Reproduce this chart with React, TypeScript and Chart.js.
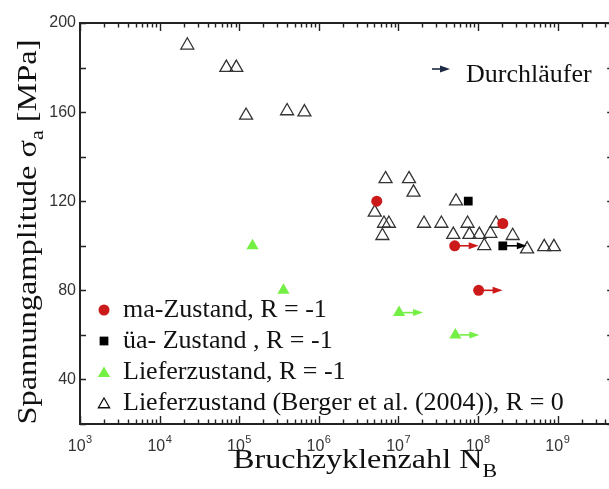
import React, { useEffect, useRef } from 'react';
import { Chart, registerables } from 'chart.js';

Chart.register(...registerables);

// ---- axis ranges & ticks ----
const X_MIN = 1e3;
const X_MAX = 5e9;
const Y_MIN = 20;
const Y_MAX = 200;
const yTickValues = [20, 40, 60, 80, 100, 120, 140, 160, 180, 200];
const yLabelledValues = [40, 80, 120, 160, 200];
const xExponents = [3, 4, 5, 6, 7, 8, 9];
const xMultipliers = [1, 2, 3, 4, 5, 6, 7, 8, 9];

// ---- texts ----
const seriesLabels = [
  'ma-Zustand, R = -1',
  'üa- Zustand , R = -1',
  'Lieferzustand, R = -1',
  'Lieferzustand (Berger et al. (2004)), R = 0',
];
const xTitleMain = 'Bruchzyklenzahl N';
const xTitleSub = 'B';
const yTitleMain = 'Spannungamplitude σ';
const yTitleSub = 'a';
const yTitleTail = ' [MPa]';
const runoutLabel = 'Durchläufer';

// ---- data: ma-Zustand, R = -1 ----
const maN = [5.35e6, 5.1e7, 1.02e8, 2.05e8];
const maS = [120, 100, 80, 110];
const maRunout = [false, true, true, false];

// ---- data: üa-Zustand, R = -1 ----
const uaN = [7.55e7, 2.05e8];
const uaS = [120, 100];
const uaRunout = [false, true];

// ---- data: Lieferzustand, R = -1 ----
const lzN = [1.47e5, 3.6e5, 1.02e7, 5.2e7];
const lzS = [100, 80, 70, 60];
const lzRunout = [false, false, true, true];

// ---- data: Lieferzustand (Berger et al. 2004), R = 0 ----
const bergerN = [
  2.23e4, 6.9e4, 9.2e4, 1.22e5, 4.0e5, 6.6e5,
  6.9e6, 1.36e7, 1.55e7, 5.05e6, 6.6e6, 7.6e6, 6.3e6,
  2.1e7, 3.47e7, 5.3e7, 7.4e7, 4.9e7, 7.8e7, 1.04e8, 1.43e8,
  1.69e8, 2.73e8, 1.2e8, 4.14e8, 6.8e8, 9.0e8,
];
const bergerS = [
  190, 180, 180, 158.5, 160.5, 160,
  130, 130, 124, 115, 110, 110, 104.5,
  110, 110, 120, 110, 105, 105, 105, 105.5,
  110, 104.5, 100, 98.5, 99.5, 99.5,
];

const RED = '#cc1a1a';
const GREEN = '#74ef44';
const BLACK = '#000000';
const GRAY = '#333333';
const NAVY = '#1f2b45';

function detectFamily(cands: string[], generic: string): string {
  try {
    const c = document.createElement('canvas').getContext('2d');
    if (!c) return generic;
    const probe = 'mmmmmmmmmmlli WwQq 0123456789 abcdefghijklmnop';
    for (const base of ['monospace', 'sans-serif']) {
      c.font = `72px ${base}`;
      const w0 = c.measureText(probe).width;
      for (const f of cands) {
        c.font = `72px "${f}", ${base}`;
        if (Math.abs(c.measureText(probe).width - w0) > 0.5) return `"${f}", ${generic}`;
      }
    }
  } catch (e) {
    /* ignore */
  }
  return generic;
}

const SERIF = detectFamily(['Liberation Serif', 'Times New Roman', 'Times', 'Tinos', 'Nimbus Roman', 'DejaVu Serif', 'Noto Serif'], 'serif');
const SANS = detectFamily(['Liberation Sans', 'Arial', 'Helvetica', 'Arimo', 'Nimbus Sans', 'Roboto'], 'sans-serif');

const toPoints = (xs: number[], ys: number[]) => xs.map((x, i) => ({ x, y: ys[i] }));

const runoutSets = [
  { index: 0, flags: maRunout, color: RED },
  { index: 1, flags: uaRunout, color: BLACK },
  { index: 2, flags: lzRunout, color: GREEN },
];

function drawArrow(ctx: CanvasRenderingContext2D, x0: number, y: number, color: string, len = 24) {
  ctx.save();
  ctx.strokeStyle = color;
  ctx.fillStyle = color;
  ctx.lineWidth = 1.6;
  ctx.beginPath();
  ctx.moveTo(x0 + 4, y);
  ctx.lineTo(x0 + len - 8, y);
  ctx.stroke();
  ctx.beginPath();
  ctx.moveTo(x0 + len, y);
  ctx.lineTo(x0 + len - 10, y - 3.5);
  ctx.lineTo(x0 + len - 10, y + 3.5);
  ctx.closePath();
  ctx.fill();
  ctx.restore();
}

function drawMarker(ctx: CanvasRenderingContext2D, style: string, x: number, y: number, r: number, fill: string, stroke: string, lw: number) {
  ctx.save();
  ctx.beginPath();
  if (style === 'circle') {
    ctx.arc(x, y, r, 0, Math.PI * 2);
  } else if (style === 'rect') {
    const s = r * Math.SQRT1_2;
    ctx.rect(x - s, y - s, 2 * s, 2 * s);
  } else {
    for (let k = 0; k < 3; k++) {
      const a = (k * 2 * Math.PI) / 3;
      const px = x + Math.sin(a) * r;
      const py = y - Math.cos(a) * r;
      if (k === 0) ctx.moveTo(px, py);
      else ctx.lineTo(px, py);
    }
    ctx.closePath();
  }
  if (fill !== 'none') {
    ctx.fillStyle = fill;
    ctx.fill();
  }
  if (lw > 0) {
    ctx.strokeStyle = stroke;
    ctx.lineWidth = lw;
    ctx.stroke();
  }
  ctx.restore();
}

type Part = { text: string; size: number; dy: number };

function drawParts(ctx: CanvasRenderingContext2D, parts: Part[], cx: number, baseline: number, targetWidth: number, rotate: boolean) {
  ctx.save();
  const widths = parts.map((p) => {
    ctx.font = `${p.size}px ${SERIF}`;
    return ctx.measureText(p.text).width;
  });
  const total = widths.reduce((a, b) => a + b, 0);
  const sx = targetWidth / total;
  if (rotate) {
    ctx.translate(baseline, cx);
    ctx.rotate(-Math.PI / 2);
  } else {
    ctx.translate(cx, baseline);
  }
  ctx.scale(sx, 1);
  ctx.fillStyle = '#111';
  ctx.textBaseline = 'alphabetic';
  ctx.textAlign = 'left';
  let pos = -total / 2;
  parts.forEach((p, i) => {
    ctx.font = `${p.size}px ${SERIF}`;
    ctx.fillText(p.text, pos, p.dy);
    pos += widths[i];
  });
  ctx.restore();
}

const decorPlugin = {
  id: 'decor',
  afterDatasetsDraw(chart: any) {
    const ctx: CanvasRenderingContext2D = chart.ctx;
    runoutSets.forEach(({ index, flags, color }) => {
      const meta = chart.getDatasetMeta(index);
      meta.data.forEach((pt: any, i: number) => {
        if (flags[i]) drawArrow(ctx, pt.x, pt.y, color);
      });
    });
  },
  afterDraw(chart: any) {
    const ctx: CanvasRenderingContext2D = chart.ctx;
    const { left, right, top, bottom } = chart.chartArea;
    const xs = chart.scales.x;
    const ys = chart.scales.y;
    ctx.save();
    ctx.strokeStyle = '#222';
    ctx.lineWidth = 1.4;
    ctx.beginPath();
    xs.ticks.forEach((t: any) => {
      const px = Math.round(xs.getPixelForValue(t.value)) + 0.5;
      const major = Math.abs(Math.log10(t.value) - Math.round(Math.log10(t.value))) < 1e-9;
      const len = major ? 8 : 4.5;
      ctx.moveTo(px, bottom);
      ctx.lineTo(px, bottom - len);
      ctx.moveTo(px, top);
      ctx.lineTo(px, top + len);
    });
    ys.ticks.forEach((t: any) => {
      const py = Math.round(ys.getPixelForValue(t.value)) + 0.5;
      ctx.moveTo(left, py);
      ctx.lineTo(left + 6, py);
      ctx.moveTo(right, py);
      ctx.lineTo(right - 6, py);
    });
    ctx.stroke();
    ctx.lineWidth = 2;
    ctx.strokeRect(left, top, right - left, bottom - top);

    // x tick labels 10^n
    ctx.fillStyle = GRAY;
    ctx.textBaseline = 'alphabetic';
    ctx.textAlign = 'left';
    xs.ticks.forEach((t: any) => {
      const e = Math.log10(t.value);
      if (Math.abs(e - Math.round(e)) > 1e-9) return;
      const exp = String(Math.round(e));
      const px = xs.getPixelForValue(t.value);
      ctx.font = `16px ${SANS}`;
      const w1 = ctx.measureText('10').width;
      ctx.font = `11px ${SANS}`;
      const w2 = ctx.measureText(exp).width;
      const start = px - (w1 + w2 + 0.5) / 2;
      ctx.font = `16px ${SANS}`;
      ctx.fillText('10', start, 451);
      ctx.font = `11px ${SANS}`;
      ctx.fillText(exp, start + w1 + 0.5, 443);
    });

    drawParts(ctx, [
      { text: xTitleMain, size: 28, dy: 0 },
      { text: xTitleSub, size: 19, dy: 9 },
    ], 365, 468, 264, false);
    drawParts(ctx, [
      { text: yTitleMain, size: 28, dy: 0 },
      { text: yTitleSub, size: 19, dy: 7 },
      { text: yTitleTail, size: 28, dy: 0 },
    ], 232, 36, 385, true);

    const legendMarkers = [
      { style: 'circle', r: 5.5, fill: RED, stroke: RED, lw: 0 },
      { style: 'rect', r: 6.2, fill: BLACK, stroke: BLACK, lw: 0 },
      { style: 'triangle', r: 7, fill: GREEN, stroke: GREEN, lw: 0 },
      { style: 'triangle', r: 6.5, fill: 'none', stroke: '#111', lw: 1.3 },
    ];
    const rows = [310, 341, 372, 403];
    chart.data.datasets.forEach((ds: any, i: number) => {
      const m = legendMarkers[i];
      const yy = rows[i];
      drawMarker(ctx, m.style, 104, m.style === 'triangle' ? yy + 1.5 : yy, m.r, m.fill, m.stroke, m.lw);
      ctx.font = `26px ${SERIF}`;
      ctx.fillStyle = '#111';
      ctx.textBaseline = 'middle';
      ctx.fillText(ds.label, 123, yy);
    });

    drawArrow(ctx, 428, 69, NAVY, 22);
    ctx.font = `26px ${SERIF}`;
    ctx.fillStyle = '#111';
    ctx.textBaseline = 'alphabetic';
    ctx.fillText(runoutLabel, 466, 82);
    ctx.restore();
  },
};

export default function App() {
  const ref = useRef<HTMLCanvasElement>(null);
  useEffect(() => {
    const chart = new Chart(ref.current as HTMLCanvasElement, {
      type: 'scatter',
      data: {
        datasets: [
          {
            label: seriesLabels[0],
            data: toPoints(maN, maS),
            pointStyle: 'circle',
            pointRadius: 5.5,
            pointHoverRadius: 5.5,
            backgroundColor: RED,
            borderColor: RED,
            borderWidth: 0,
          },
          {
            label: seriesLabels[1],
            data: toPoints(uaN, uaS),
            pointStyle: 'rect',
            pointRadius: 6.2,
            pointHoverRadius: 6.2,
            backgroundColor: BLACK,
            borderColor: BLACK,
            borderWidth: 0,
          },
          {
            label: seriesLabels[2],
            data: toPoints(lzN, lzS),
            pointStyle: 'triangle',
            pointRadius: 7,
            pointHoverRadius: 7,
            backgroundColor: GREEN,
            borderColor: GREEN,
            borderWidth: 0,
          },
          {
            label: seriesLabels[3],
            data: toPoints(bergerN, bergerS),
            pointStyle: 'triangle',
            pointRadius: 7.5,
            pointHoverRadius: 7.5,
            backgroundColor: 'rgba(0,0,0,0)',
            borderColor: GRAY,
            borderWidth: 1.3,
          },
        ],
      },
      options: {
        animation: false,
        responsive: false,
        devicePixelRatio: 1,
        events: [],
        layout: { padding: { left: 0, top: 23, right: 2, bottom: 0 } },
        plugins: {
          legend: { display: false },
          tooltip: { enabled: false },
        },
        scales: {
          x: {
            type: 'logarithmic',
            min: X_MIN,
            max: X_MAX,
            grid: { display: false, drawTicks: false },
            border: { display: false },
            ticks: { display: false, autoSkip: false },
            afterBuildTicks: (scale: any) => {
              scale.ticks = xExponents
                .flatMap((e) => xMultipliers.map((m) => ({ value: m * Math.pow(10, e) })))
                .filter((t) => t.value <= X_MAX);
            },
            afterFit: (scale: any) => {
              scale.height = 65;
            },
          },
          y: {
            type: 'linear',
            min: Y_MIN,
            max: Y_MAX,
            grid: { display: false, drawTicks: false },
            border: { display: false },
            ticks: {
              autoSkip: false,
              padding: 4,
              color: GRAY,
              font: { family: SANS, size: 16 },
              callback: (v: any) => (yLabelledValues.includes(Number(v)) ? String(v) : ''),
            },
            afterBuildTicks: (scale: any) => {
              scale.ticks = yTickValues.map((v) => ({ value: v }));
            },
            afterFit: (scale: any) => {
              scale.width = 80;
            },
          },
        },
      },
      plugins: [decorPlugin],
    } as any);
    let alive = true;
    const redraw = () => {
      if (alive) chart.update();
    };
    if ((document as any).fonts && (document as any).fonts.ready) {
      (document as any).fonts.ready.then(redraw);
    }
    const timer = setTimeout(redraw, 150);
    return () => {
      alive = false;
      clearTimeout(timer);
      chart.destroy();
    };
  }, []);
  return (
    <div style={{ position: 'absolute', left: 0, top: 0, width: 609, height: 489, overflow: 'hidden', background: '#fff' }}>
      <canvas ref={ref} width={622} height={489} style={{ display: 'block', width: 622, height: 489 }} />
    </div>
  );
}
